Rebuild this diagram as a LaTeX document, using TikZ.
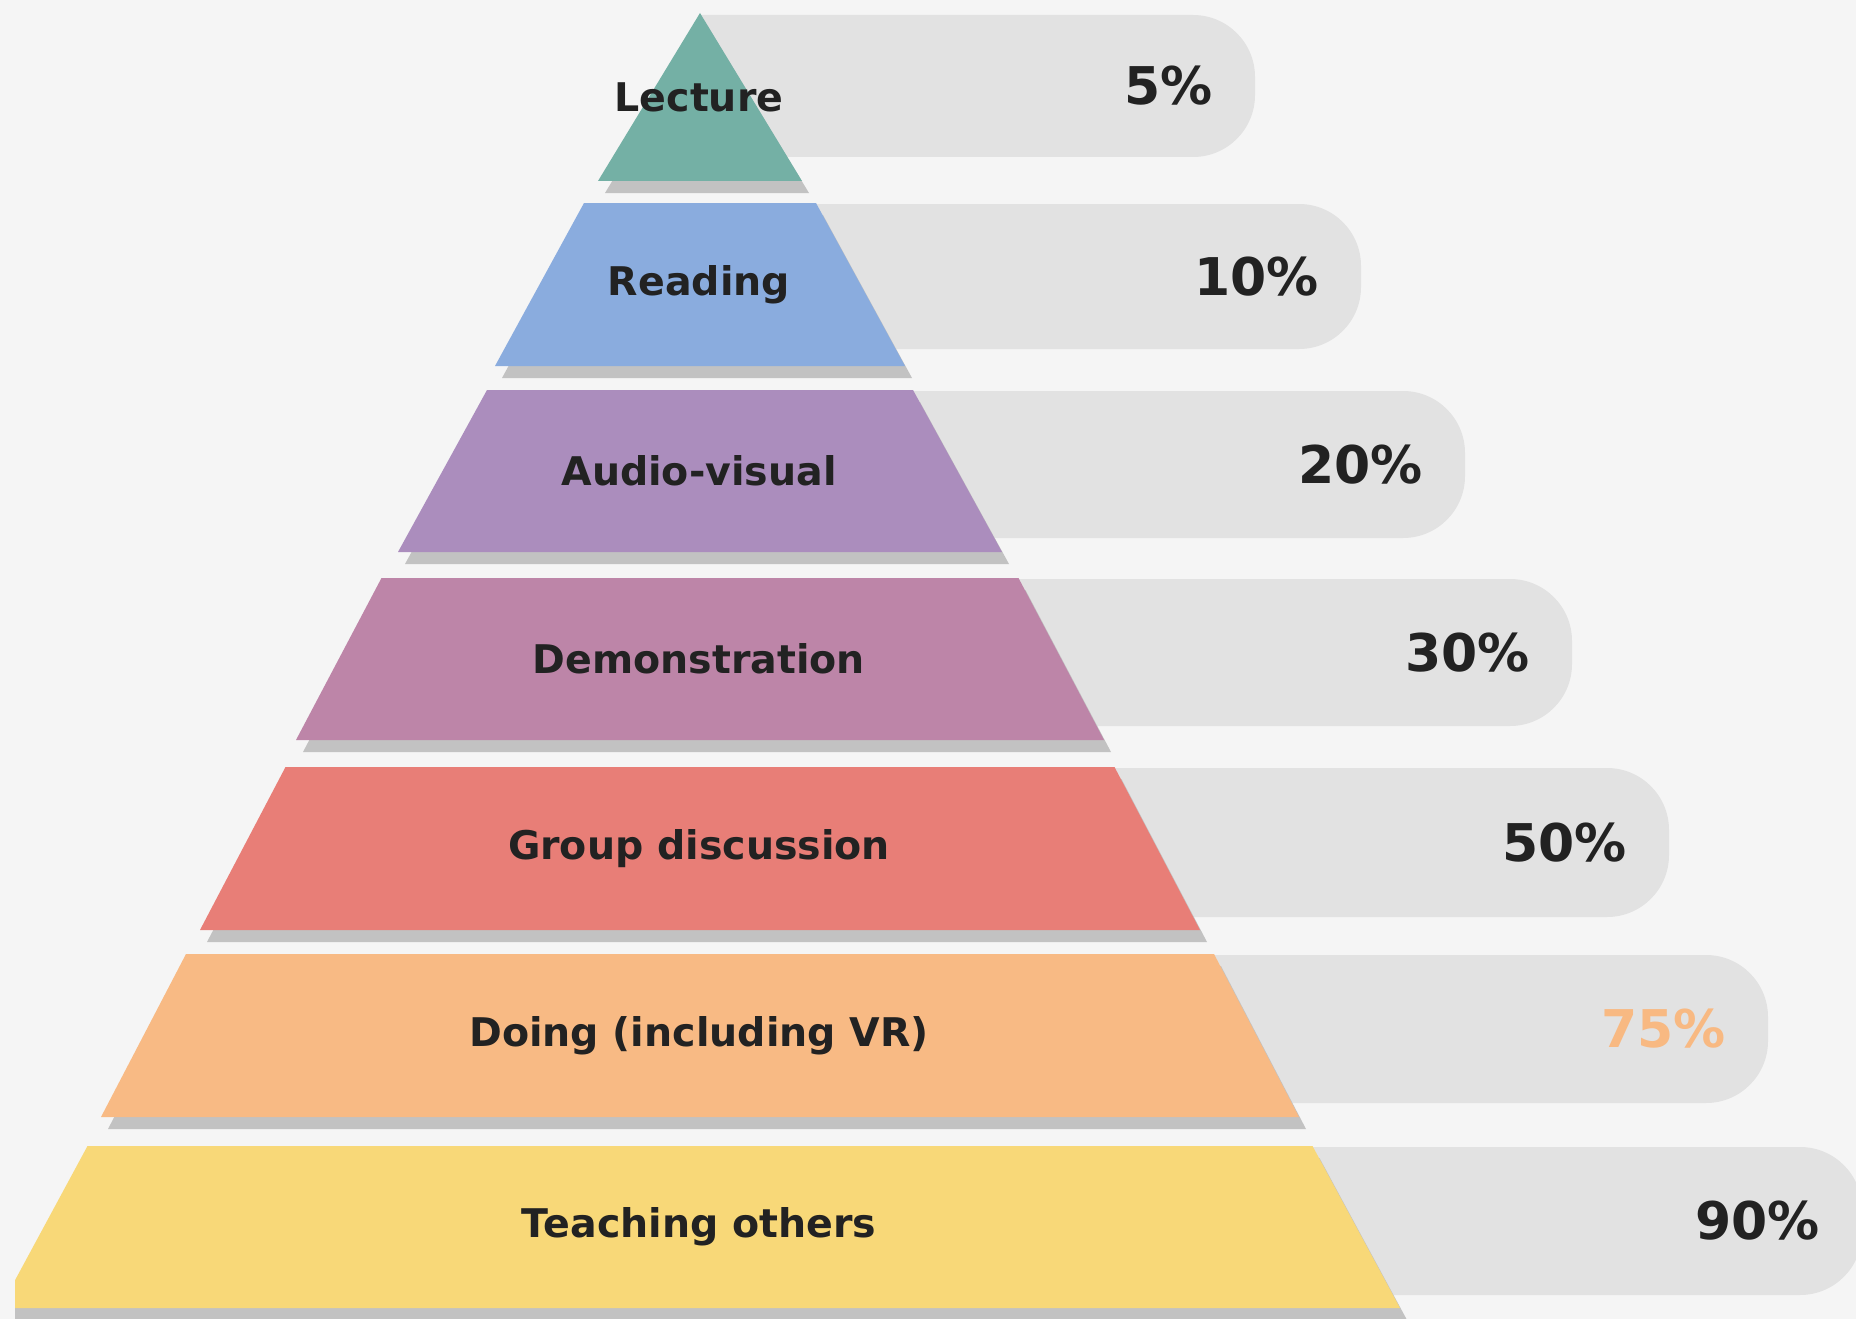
\documentclass[tikz,border=0pt]{standalone}
\usepackage{fontspec}
\setmainfont{DejaVu Sans}
\definecolor{bg}{HTML}{F5F5F5}
\definecolor{barc}{HTML}{E2E2E2}
\definecolor{shad}{HTML}{C2C2C2}
\definecolor{txt}{HTML}{222222}
\definecolor{pctor}{HTML}{F8B982}
\definecolor{cA}{HTML}{74B0A5}
\definecolor{cB}{HTML}{8AACDE}
\definecolor{cC}{HTML}{AB8DBD}
\definecolor{cD}{HTML}{BD85A8}
\definecolor{cE}{HTML}{E87E77}
\definecolor{cF}{HTML}{F8BA84}
\definecolor{cG}{HTML}{F8D878}
\begin{document}
\begin{tikzpicture}[x=1pt,y=-1pt,
  lab/.style={text=txt,font=\fontsize{39.5}{46}\selectfont\bfseries,inner sep=0pt},
  pct/.style={font=\fontsize{52}{60}\selectfont\bfseries,inner sep=0pt,anchor=east},
  barfill/.style={fill=barc},
  shadfill/.style={fill=shad}]
\fill[bg] (0,0) rectangle (1856,1319);
\useasboundingbox (0,0) rectangle (1856,1319);
\clip (15,0) rectangle (1856,1319);
\foreach \n/\t/\b/\th/\bh/\c/\lab/\bt/\bb/\r/\p/\pc in {
  A/13/181/0/102/cA/Lecture/15/157/1255/5\%/txt,
  B/203/366/116/205/cB/Reading/204/349/1361/10\%/txt,
  C/390/552/213/302/cC/Audio-visual/391/538/1465/20\%/txt,
  D/578/740/318.5/404/cD/Demonstration/579/726/1572/30\%/txt,
  E/767/930/414.5/500/cE/Group discussion/768/917/1669/50\%/txt,
  F/954/1117/514/599/cF/Doing (including VR)/955/1103/1768/75\%/pctor,
  G/1146/1308/612.5/700/cG/Teaching others/1147/1295/1862/90\%/txt}{
  \begin{scope}
    \clip (700,0) rectangle (1856,1319);
    \fill[barfill,rounded corners=62pt] (500,\bt) rectangle (\r,\bb);
  \end{scope}
  \fill[shadfill] ({707-\th},{\t+12}) -- ({707+\th},{\t+12}) -- ({707+\bh},{\b+12}) -- ({707-\bh},{\b+12}) -- cycle;
  \fill[\c] ({700-\th},\t) -- ({700+\th},\t) -- ({700+\bh},\b) -- ({700-\bh},\b) -- cycle;
  \node[lab] (lab\n) at (699,{(\t+\b)/2}) {\lab};
  \node[pct,text=\pc] (pct\n) at ({\r-42},{(\bt+\bb)/2}) {\p};
}
\end{tikzpicture}
\end{document}
